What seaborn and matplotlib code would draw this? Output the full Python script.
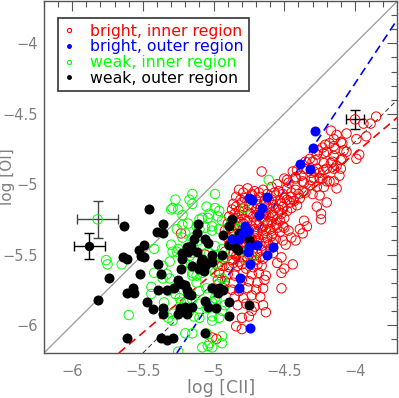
import numpy as np
import pandas as pd
import matplotlib
matplotlib.use("Agg")
import matplotlib.pyplot as plt
import seaborn as sns
from matplotlib.lines import Line2D
from matplotlib.ticker import MultipleLocator, FuncFormatter

# ---------------- data (log [CII], log [OI]) ----------------
red_x = [
    -3.85, -3.89, -3.94, -3.92, -3.99, -4.06, -4.17, -4.15, -4.13, -4.10,
    -4.18, -4.23, -4.22, -4.15, -4.09, -4.06, -3.99, -3.97, -4.17, -4.20,
    -4.13, -4.10, -4.27, -4.25, -4.29, -4.23, -4.20, -4.15, -4.11, -4.32,
    -4.27, -4.30, -4.34, -4.31, -4.38, -4.36, -4.44, -4.42, -4.47, -4.50,
    -4.55, -4.66, -4.32, -4.27, -4.22, -4.13, -4.30, -4.25,
    -4.21, -4.15, -4.09,
    -4.26, -4.20, -4.14, -4.08,
    -4.35, -4.28, -4.22, -4.16, -4.10,
    -4.41, -4.36, -4.29, -4.22, -4.15,
    -4.48, -4.42, -4.37, -4.31, -4.25, -4.18,
    -4.82, -4.76, -4.71, -4.65, -4.59, -4.54, -4.48, -4.42, -4.37,
    -4.79, -4.73, -4.68, -4.62, -4.57, -4.51, -4.45, -4.40, -4.35,
    -4.84, -4.78, -4.73, -4.67, -4.61, -4.56, -4.50, -4.45, -4.39,
    -4.81, -4.76, -4.70, -4.64, -4.59, -4.53, -4.48, -4.43,
    -4.86, -4.80, -4.75, -4.69, -4.63, -4.58, -4.52, -4.46, -4.41,
    -4.84, -4.79, -4.73, -4.67, -4.62, -4.56, -4.51, -4.45,
    -4.87, -4.82, -4.76, -4.70, -4.65, -4.59, -4.54, -4.48,
    -4.85, -4.80, -4.74, -4.69, -4.63, -4.58, -4.52,
    -4.89, -4.83, -4.78, -4.72, -4.66, -4.61, -4.55, -4.50,
    -4.87, -4.81, -4.76, -4.70, -4.64, -4.59, -4.53,
    -4.90, -4.85, -4.79, -4.73, -4.68, -4.62, -4.56, -4.51,
    -4.88, -4.83, -4.77, -4.71, -4.66, -4.60, -4.55,
    -4.92, -4.86, -4.80, -4.75, -4.69, -4.63, -4.58, -4.53,
    -4.87, -4.82, -4.76, -4.70, -4.65, -4.59,
    -4.90, -4.85, -4.79, -4.73, -4.68, -4.62, -4.56,
    -4.86, -4.80, -4.75, -4.69, -4.63, -4.58,
    -4.89, -4.83, -4.78, -4.72, -4.66, -4.61,
    -4.83, -4.77, -4.72, -4.66, -4.60,
    -4.92, -4.86, -4.80, -4.75, -4.69, -4.63,
    -4.84, -4.79, -4.73, -4.67,
    -4.93, -4.87, -4.82, -4.76, -4.70, -4.65,
    -4.86, -4.80, -4.74, -4.69,
    -4.94, -4.89, -4.83, -4.77, -4.72, -4.66,
    -4.96, -4.90, -4.85, -4.79, -4.73, -4.68, -4.63,
    -4.97, -4.92, -4.86, -4.80, -4.75, -4.69, -4.64,
    -4.93, -4.87, -4.82, -4.76, -4.70, -4.65,
    -4.85, -4.79, -4.73, -4.67,
    -4.83, -4.77, -4.71, -4.65,
    -4.27, -4.24, -4.20, -4.24, -4.36, -4.34, -4.39, -4.37, -4.50, -4.47,
    -4.45, -4.42, -4.51, -4.49, -4.58, -4.52, -4.55, -4.50, -4.44, -4.52,
    -4.52, -4.63, -4.73, -4.75, -4.80, -4.84, -4.80, -5.01, -4.98, -5.23,
    -5.06, -4.97,
]
red_y = [
    -4.52, -4.57, -4.57, -4.66, -4.68, -4.64, -4.62, -4.68, -4.65, -4.70,
    -4.71, -4.74, -4.78, -4.80, -4.82, -4.77, -4.82, -4.79, -4.85, -4.89,
    -4.87, -4.89, -4.89, -4.92, -4.96, -4.96, -4.98, -4.98, -4.94, -4.82,
    -4.79, -4.84, -4.89, -4.92, -4.94, -4.99, -4.91, -4.95, -4.99, -4.96,
    -5.00, -4.91, -5.01, -5.02, -5.02, -5.03, -5.07, -5.08,
    -4.72, -4.73, -4.71,
    -4.76, -4.77, -4.75, -4.76,
    -4.84, -4.83, -4.85, -4.84, -4.83,
    -4.90, -4.89, -4.91, -4.90, -4.89,
    -4.97, -4.96, -4.98, -4.97, -4.96, -4.98,
    -5.04, -5.03, -5.05, -5.04, -5.02, -5.05, -5.03, -5.04, -5.05,
    -5.06, -5.07, -5.06, -5.07, -5.06, -5.07, -5.06, -5.07, -5.06,
    -5.09, -5.10, -5.08, -5.09, -5.11, -5.08, -5.10, -5.09, -5.10,
    -5.11, -5.12, -5.11, -5.12, -5.11, -5.12, -5.11, -5.12,
    -5.14, -5.13, -5.15, -5.14, -5.13, -5.15, -5.14, -5.13, -5.15,
    -5.16, -5.17, -5.16, -5.17, -5.16, -5.17, -5.16, -5.17,
    -5.18, -5.19, -5.20, -5.18, -5.19, -5.20, -5.18, -5.19,
    -5.21, -5.22, -5.21, -5.22, -5.21, -5.22, -5.21,
    -5.23, -5.24, -5.25, -5.23, -5.24, -5.23, -5.25, -5.24,
    -5.26, -5.27, -5.26, -5.27, -5.26, -5.27, -5.26,
    -5.28, -5.29, -5.28, -5.30, -5.29, -5.28, -5.29, -5.30,
    -5.31, -5.32, -5.31, -5.32, -5.31, -5.32, -5.31,
    -5.33, -5.34, -5.35, -5.33, -5.34, -5.33, -5.35, -5.34,
    -5.36, -5.37, -5.36, -5.37, -5.36, -5.37,
    -5.38, -5.39, -5.38, -5.40, -5.39, -5.38, -5.39,
    -5.41, -5.42, -5.41, -5.42, -5.41, -5.42,
    -5.43, -5.44, -5.45, -5.43, -5.44, -5.43,
    -5.46, -5.47, -5.46, -5.47, -5.46,
    -5.48, -5.49, -5.48, -5.50, -5.49, -5.48,
    -5.51, -5.52, -5.51, -5.52,
    -5.53, -5.54, -5.55, -5.53, -5.54, -5.53,
    -5.56, -5.57, -5.56, -5.57,
    -5.58, -5.59, -5.58, -5.60, -5.59, -5.58,
    -5.63, -5.64, -5.65, -5.63, -5.64, -5.63, -5.65,
    -5.68, -5.69, -5.70, -5.68, -5.69, -5.70, -5.68,
    -5.74, -5.75, -5.76, -5.74, -5.75, -5.74,
    -5.80, -5.81, -5.79, -5.80,
    -5.86, -5.85, -5.87, -5.86,
    -5.16, -5.21, -5.13, -5.25, -5.26, -5.30, -5.32, -5.35, -5.31, -5.33,
    -5.38, -5.40, -5.40, -5.43, -5.49, -5.52, -5.56, -5.60, -5.57, -5.63,
    -5.74, -5.91, -5.90, -5.94, -5.95, -6.01, -6.03, -6.09, -6.10, -5.35,
    -5.50, -5.58,
]

green_x = [
    -5.29, -5.22, -5.18, -5.12, -5.20, -5.15, -5.29, -5.26, -5.42, -5.15,
    -5.76, -5.75, -5.65, -5.20, -5.16, -5.42, -5.44, -5.44, -5.28, -5.32,
    -5.24, -5.15, -5.12, -5.19, -5.24, -5.35, -5.29, -5.32, -5.17, -5.14,
    -5.10, -5.20, -5.25, -5.60, -5.27, -5.30, -5.25, -5.17, -5.15, -5.15,
    -5.08, -4.97, -5.04, -5.22, -5.26, -5.10, -5.22, -5.30, -5.25, -5.11,
    -5.08, -4.99, -4.96, -5.31, -5.36, -4.94, -5.03, -5.17, -5.36, -5.31,
    -5.27, -5.23, -5.29, -5.01, -5.01, -4.96, -4.94, -5.01, -4.98, -5.10,
    -5.15, -5.15, -5.05, -5.04, -5.01, -4.94, -5.33, -5.10, -5.05, -5.12,
    -5.15, -5.08, -5.05, -4.99, -4.96, -5.03, -5.10, -4.94, -5.01, -5.06,
    -5.01, -4.96, -4.97, -4.92, -4.98, -4.99, -4.94, -4.97, -4.92, -5.01,
    -4.99, -5.05, -4.94, -5.03, -5.08, -4.80, -4.77, -4.83, -4.78, -4.75,
    -4.73, -4.77, -4.61, -4.99, -4.87, -4.84, -4.92,
]
green_y = [
    -5.17, -5.29, -5.28, -5.30, -5.35, -5.38, -5.48, -5.48, -5.46, -5.49,
    -5.54, -5.57, -5.57, -5.56, -5.58, -5.63, -5.73, -5.78, -5.74, -5.76,
    -5.71, -5.63, -5.65, -5.83, -5.81, -5.84, -5.92, -5.95, -5.90, -5.94,
    -5.95, -6.06, -6.19, -5.93, -5.11, -5.18, -5.18, -5.11, -5.07, -5.14,
    -5.24, -5.23, -5.24, -5.22, -5.32, -5.32, -5.38, -5.43, -5.46, -5.40,
    -5.43, -5.44, -5.51, -5.55, -5.58, -5.46, -5.49, -5.51, -5.67, -5.67,
    -5.78, -5.84, -5.97, -5.94, -5.97, -5.95, -5.90, -5.84, -5.82, -5.85,
    -5.82, -6.06, -6.06, -6.15, -6.16, -6.13, -5.64, -5.76, -5.74, -5.70,
    -5.65, -5.63, -5.16, -5.17, -5.19, -5.21, -5.25, -5.26, -5.30, -5.31,
    -5.33, -5.32, -5.50, -5.52, -5.56, -5.63, -5.67, -5.71, -5.72, -5.74,
    -5.81, -5.88, -6.08, -6.13, -6.16, -5.31, -5.35, -5.38, -5.17, -5.46,
    -5.52, -5.53, -4.97, -5.07, -5.28, -5.31, -5.86,
]

black_x = [
    -5.82, -5.74, -5.64, -5.63, -5.61, -5.61, -5.61, -5.57, -5.56, -5.53,
    -5.52, -5.51, -5.49, -5.49, -5.47, -5.46, -5.43, -5.40, -5.39, -5.39,
    -5.37, -5.37, -5.36, -5.36, -5.36, -5.36, -5.33, -5.33, -5.29, -5.28,
    -5.25, -5.25, -5.24, -5.23, -5.22, -5.22, -5.22, -5.21, -5.20, -5.20,
    -5.19, -5.19, -5.19, -5.18, -5.18, -5.16, -5.16, -5.15, -5.15, -5.14,
    -5.12, -5.12, -5.11, -5.10, -5.09, -5.08, -5.08, -5.06, -5.06, -5.06,
    -5.06, -5.05, -5.04, -5.04, -5.01, -5.01, -5.01, -4.98, -4.97, -4.96,
    -4.94, -4.93, -4.93, -4.89, -4.89, -4.89, -4.89, -4.87, -4.85, -4.85,
    -4.83, -4.82, -4.77, -4.75, -4.75, -5.07,
]
black_y = [
    -5.82, -5.67, -5.52, -5.30, -5.53, -5.77, -6.09, -5.74, -5.77, -5.47,
    -5.64, -5.51, -5.43, -5.52, -5.84, -5.18, -5.89, -5.34, -5.57, -5.75,
    -5.64, -6.09, -5.28, -5.35, -5.88, -5.92, -5.75, -6.11, -6.09, -5.74,
    -5.68, -5.92, -5.88, -5.60, -5.49, -5.53, -5.71, -5.90, -5.72, -5.87,
    -5.45, -5.75, -5.92, -5.78, -5.48, -5.44, -5.79, -5.58, -5.87, -5.39,
    -5.35, -5.48, -5.28, -5.60, -5.55, -5.53, -5.60, -5.39, -5.83, -6.06,
    -5.58, -5.56, -5.42, -5.87, -5.50, -5.74, -5.55, -5.88, -5.77, -5.74,
    -5.50, -5.36, -5.75, -5.30, -5.43, -5.84, -5.94, -5.25, -5.45, -5.40,
    -5.47, -5.35, -5.35, -5.86, -5.40, -5.62,
]

blue_x = [
    -4.28, -4.30, -4.39, -4.32, -4.75, -4.73, -4.62, -4.66, -4.68, -4.78,
    -4.76, -4.79, -4.87, -4.82, -4.69, -4.58, -4.75, -4.76, -4.62, -4.74,
    -4.81, -4.82, -4.74,
]
blue_y = [
    -4.62, -4.74, -4.86, -4.89, -5.10, -5.11, -5.09, -5.17, -5.22, -5.30,
    -5.33, -5.35, -5.39, -5.39, -5.43, -5.45, -5.45, -5.48, -5.50, -5.57,
    -5.67, -5.74, -6.02,
]

# representative error bars: x, y, xerr, yerr
err_x = [-4.00, -5.82, -5.88]
err_y = [-4.54, -5.25, -5.44]
err_dx = [0.063, 0.145, 0.11]
err_dy = [0.067, 0.13, 0.092]

# fitted relations: (point on line, slope)
fit_red = ((-5.67, -6.20), 0.85)
fit_blue = ((-5.26, -6.20), 1.52)
fit_black = ((-5.50, -6.20), 1.00)

labels = ["bright, inner region", "bright, outer region",
          "weak, inner region", "weak, outer region"]
colors = ["#ff0000", "#0000ff", "#00ff00", "#000000"]

# ---------------- figure ----------------
sns.set_style("white")
plt.rcParams["font.family"] = ["DejaVu Sans"]
fig = plt.figure(figsize=(3.99, 3.98), dpi=100)
ax = fig.add_axes([0.110, 0.113, 0.886, 0.884])

lim = (-6.2, -3.7)
ax.set_xlim(lim)
ax.set_ylim(lim)

ax.axline((lim[0], lim[0]), slope=1.0, color="#999999", lw=0.9, zorder=1)
ax.axline(fit_red[0], slope=fit_red[1], color="#ff0000", lw=1.2,
          dashes=(5, 3), zorder=1)
ax.axline(fit_blue[0], slope=fit_blue[1], color="#0000ff", lw=1.2,
          dashes=(5, 3), zorder=1)
ax.axline(fit_black[0], slope=fit_black[1], color="#333333", lw=0.7,
          dashes=(5, 3), zorder=1)

sns.scatterplot(x=red_x, y=red_y, ax=ax, marker="o", s=46,
                facecolor="none", edgecolor="#ff0000", linewidth=0.7,
                zorder=2, legend=False)
sns.scatterplot(x=green_x, y=green_y, ax=ax, marker="o", s=46,
                facecolor="none", edgecolor="#00ff00", linewidth=0.7,
                zorder=3, legend=False)
sns.scatterplot(x=black_x, y=black_y, ax=ax, marker="o", s=52,
                color="#000000", edgecolor="#000000", linewidth=0,
                zorder=4, legend=False)
sns.scatterplot(x=blue_x, y=blue_y, ax=ax, marker="o", s=52,
                color="#0000ff", edgecolor="#0000ff", linewidth=0,
                zorder=5, legend=False)

# error bars
ax.errorbar(err_x[0], err_y[0], xerr=err_dx[0], yerr=err_dy[0], fmt="none",
            ecolor="#000000", elinewidth=1.0, capsize=3.5, capthick=1.0, zorder=6)
ax.errorbar(err_x[1], err_y[1], xerr=err_dx[1], yerr=err_dy[1], fmt="none",
            ecolor="#444444", elinewidth=1.0, capsize=3.5, capthick=1.0, zorder=6)
ax.errorbar(err_x[2], err_y[2], xerr=err_dx[2], yerr=err_dy[2], fmt="none",
            ecolor="#000000", elinewidth=1.0, capsize=3.5, capthick=1.0, zorder=6)
sns.scatterplot(x=[err_x[0]], y=[err_y[0]], ax=ax, marker="o", s=46,
                facecolor="none", edgecolor="#ff0000", linewidth=0.7, zorder=7)
sns.scatterplot(x=[err_x[1]], y=[err_y[1]], ax=ax, marker="o", s=46,
                facecolor="none", edgecolor="#00ff00", linewidth=0.7, zorder=7)
sns.scatterplot(x=[err_x[2]], y=[err_y[2]], ax=ax, marker="o", s=46,
                color="#000000", linewidth=0, zorder=7)

# axes styling
frame_c = "#555555"
text_c = "#808080"
for sp in ax.spines.values():
    sp.set_visible(True)
    sp.set_color(frame_c)
    sp.set_linewidth(1.0)
ax.xaxis.set_major_locator(MultipleLocator(0.5))
ax.yaxis.set_major_locator(MultipleLocator(0.5))
ax.xaxis.set_minor_locator(MultipleLocator(0.1))
ax.yaxis.set_minor_locator(MultipleLocator(0.1))
fmt = FuncFormatter(lambda v, p: ("%g" % v).replace("-", "\u2212"))
ax.xaxis.set_major_formatter(fmt)
ax.yaxis.set_major_formatter(fmt)
ax.tick_params(which="both", direction="in", top=True, right=True,
               color=frame_c, width=0.8, labelcolor=text_c, labelsize=10.5)
ax.tick_params(which="major", length=7)
ax.tick_params(axis="x", which="major", pad=8)
ax.tick_params(axis="y", which="major", pad=4)
ax.tick_params(which="minor", length=4)
ax.set_xlabel("log [CII]", color=text_c, fontsize=12.5, labelpad=0)
ax.set_ylabel("log [OI]", color=text_c, fontsize=11)
ax.yaxis.set_label_coords(-0.081, 0.50)

handles = [
    Line2D([], [], ls="none", marker="o", ms=3, mfc="none", mec=colors[0], mew=0.8),
    Line2D([], [], ls="none", marker="o", ms=2.5, mfc=colors[1], mec=colors[1]),
    Line2D([], [], ls="none", marker="o", ms=3, mfc="none", mec=colors[2], mew=0.8),
    Line2D([], [], ls="none", marker="o", ms=2.5, mfc=colors[3], mec=colors[3]),
]
leg = ax.legend(handles, labels, loc="upper left", bbox_to_anchor=(0.039, 0.952),
                borderaxespad=0, fontsize=11.3, frameon=True, fancybox=False,
                framealpha=1, edgecolor="#333333", handlelength=0.8,
                handletextpad=0.9, labelspacing=0.05, borderpad=0.35)
leg.get_frame().set_linewidth(1.2)
for t, c in zip(leg.get_texts(), colors):
    t.set_color(c)

fig.savefig("out.png", dpi=100)
